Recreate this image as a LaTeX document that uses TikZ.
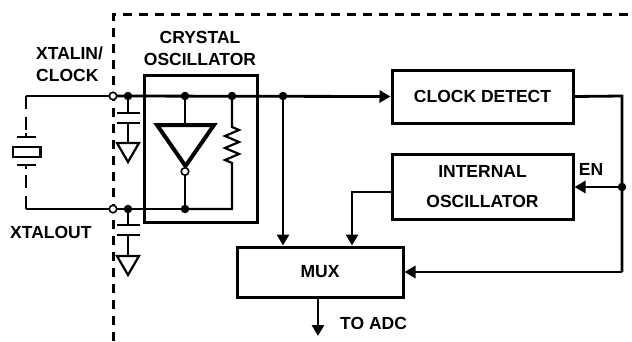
\documentclass[tikz,border=0pt]{standalone}
\usepackage{fontspec}
\setmainfont{Liberation Sans}
\usetikzlibrary{arrows.meta}
\begin{document}
\begin{tikzpicture}[x=1pt,y=-1pt,
  wire/.style={line width=2.8pt},
  thin/.style={line width=2.2pt},
  arr/.style={wire,-{Triangle[length=11pt,width=12pt]}},
  blk/.style={draw,line width=3pt,inner sep=0pt,font=\fontsize{17.5}{30}\selectfont\bfseries,align=center},
  lbl/.style={inner sep=0pt,font=\fontsize{17.5}{22}\selectfont\bfseries},
  dot/.style={circle,fill=black,inner sep=0pt,minimum size=8.5pt},
  odot/.style={circle,draw=black,fill=white,line width=1.6pt,inner sep=0pt,minimum size=7.5pt},
  border/.style={line width=3pt,dash pattern=on 9pt off 7pt},
  xdash/.style={line width=2.4pt,dash pattern=on 13pt off 8pt}]
\useasboundingbox (0,0) rectangle (632,341);

% boundary
\draw[border] (113.5,341) -- (113.5,14) -- (632,14);

% blocks
\node[blk,minimum width=113pt,minimum height=147pt] (xo) at (200.5,148.5) {};
\node[blk,minimum width=181pt,minimum height=53pt] (cd) at (482.5,96.5) {CLOCK DETECT};
\node[blk,minimum width=181pt,minimum height=65pt] (io) at (482.5,187) {INTERNAL\\OSCILLATOR};
\node[blk,minimum width=166pt,minimum height=50pt] (mux) at (320,272) {MUX};

% labels
\node[lbl,align=center] (lxo) at (200,48) {CRYSTAL\\OSCILLATOR};
\node[lbl,align=left,anchor=west] (lxin) at (36,64) {XTALIN/\\CLOCK};
\node[lbl,anchor=west] (lxout) at (10,232) {XTALOUT};
\node[lbl] (len) at (591,169) {EN};
\node[lbl,anchor=west] (ladc) at (340,323) {TO ADC};

% junction coordinates
\coordinate (xtl) at (26,96);
\coordinate (xbl) at (26,209);
\coordinate (xin) at (113,96);
\coordinate (xout) at (113,209);
\coordinate (c1) at (128,96);
\coordinate (c2) at (128,209);
\coordinate (iv) at (185,96);
\coordinate (ivb) at (185,209);
\coordinate (r1) at (232,96);
\coordinate (r2) at (232,209);
\coordinate (tap) at (283,96);
\coordinate (rc) at (622,96);
\coordinate (en) at (622,187);
\coordinate (mr) at (622,272);
\coordinate (ioout) at (392,192);
\coordinate (adc) at (318,336);

% crystal (external)
\draw[xdash] (xtl) -- (26,134);
\draw[xdash] (26,209) -- (26,169);
\draw[thin] (26,133) -- (26,137) (16.5,137) -- (35.5,137);
\draw[thin] (13,147) rectangle (40.5,157);
\draw[thin] (26,169) -- (26,165) (16.5,165) -- (35.5,165);

% wires
\draw[wire] (xtl) -- (xin);
\draw[arr] (xin) -- (cd.west);
\draw[wire] (xbl) -- (xout) -- (ivb);
\draw[thin] (ivb) -- (r2) -- (232,163) -- (225,160) -- (239,154) -- (225,148) -- (239,142) -- (225,136) -- (239,130) -- (232,127) -- (r1);

% capacitors
\draw[thin] (c1) -- (128,113) (117,113) -- (140,113) (117,123) -- (140,123) (128,123) -- (128,143);
\draw[thin,line join=miter] (117,143) -- (139,143) -- (128,162) -- cycle;
\draw[thin] (c2) -- (128,225) (117,225) -- (140,225) (117,235) -- (140,235) (128,235) -- (128,256);
\draw[thin,line join=miter] (117,256) -- (139,256) -- (128,275) -- cycle;

% inverter
\draw[wire] (iv) -- (185,125);
\draw[line width=4pt,line join=miter] (157,125) -- (214,125) -- (185.5,166) -- cycle;
\draw[wire] (185,176) -- (ivb);
\node[odot] (bub) at (185,171.5) {};

% signal paths
\draw[arr] (tap) -- (tap |- mux.north);
\draw[arr] (ioout) -| (352,0 |- mux.north);
\draw[wire] (cd.east) -- (rc) -- (mr);
\draw[arr] (en) -- (en -| io.east);
\draw[arr] (mr) -- (mux.east);
\draw[arr] (318,0 |- mux.south) -- (adc);

% dots
\foreach \p in {c1,c2,iv,ivb,r1,tap,en} \node[dot] at (\p) {};
\node[odot] (oin) at (xin) {};
\node[odot] (oout) at (xout) {};
\end{tikzpicture}
\end{document}
